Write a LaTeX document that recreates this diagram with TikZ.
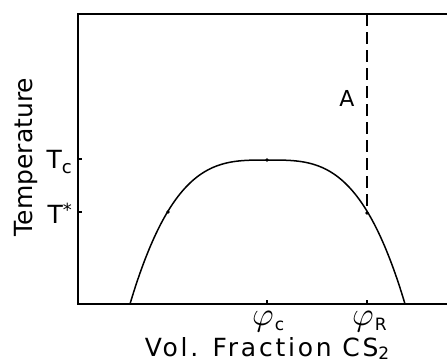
\documentclass[tikz,border=0pt]{standalone}
\usepackage{graphicx}
\usepackage{fontspec}
\setmainfont{DejaVu Sans}
\newfontfamily\spaced{DejaVu Sans}[LetterSpace=11]
\begin{document}
\begin{tikzpicture}[x=1pt,y=-1pt,
  axis/.style={line width=1.5pt},
  curve/.style={line width=1.5pt},
  dashline/.style={line width=1.5pt,dash pattern=on 12pt off 6pt},
  lab/.style={inner sep=0pt,font=\fontsize{25}{25}\selectfont},
  ticklab/.style={inner sep=0pt,font=\fontsize{25}{25}\selectfont},
  phil/.style={inner sep=0pt,anchor=base west},
  pt/.style={circle,fill,inner sep=0pt,minimum size=3.8pt}]
\useasboundingbox (0,0) rectangle (447,362);
% axes
\coordinate (tr) at (447,14);
\coordinate (tl) at (78,14);
\coordinate (bl) at (78,304);
\coordinate (br) at (447,304);
\draw[axis] (tr) -- (tl) -- (bl) -- (br);
% ticks
\coordinate (ytc) at (78,159);
\coordinate (yts) at (78,212);
\coordinate (xpc) at (267,304);
\coordinate (xpr) at (367,304);
\draw[axis] (ytc) -- ++(4,0);
\draw[axis] (yts) -- ++(4,0);
\draw[axis] (xpc) -- ++(0,-4);
\draw[axis] (xpr) -- ++(0,-4);
% coexistence curve
\draw[curve] plot[domain=-137.5:137.5,samples=161,smooth]
  ({267.5+\x},{160+144*pow(abs(\x)/137.5,3.2)});
% points
\node[pt] (p1) at (168,212) {};
\node[pt] (pc) at (267,160) {};
\node[pt] (pR) at (367,213) {};
% dashed line
\coordinate (dtop) at (367,14);
\draw[dashline] (dtop) -- (pR);
\node[inner sep=0pt,font=\fontsize{22}{22}\selectfont] (A) at (347,98) {A};
% labels
\node[lab,rotate=90] (temp) at (26,157) {Temperature};
\node[ticklab,anchor=base east] (Tc) at (72,168) {T\raisebox{-5pt}{\fontsize{18}{18}\selectfont c}};
\node[ticklab,anchor=base east] (Ts) at (72,223) {T\raisebox{7pt}{\fontsize{18}{18}\selectfont *}};
\node[phil] (phic) at (252,325) {\scalebox{3.3}{$\varphi$}\hspace{1pt}\raisebox{-5pt}{\fontsize{17}{17}\selectfont c}};
\node[phil] (phiR) at (352,325) {\scalebox{3.3}{$\varphi$}\hspace{1pt}\raisebox{-5pt}{\fontsize{17}{17}\selectfont R}};
\node[lab,anchor=base,font=\spaced\fontsize{25}{25}\selectfont] (xl) at (267,356) {Vol. Fraction CS\raisebox{-3pt}{\fontsize{17}{17}\selectfont 2}};
\end{tikzpicture}
\end{document}
